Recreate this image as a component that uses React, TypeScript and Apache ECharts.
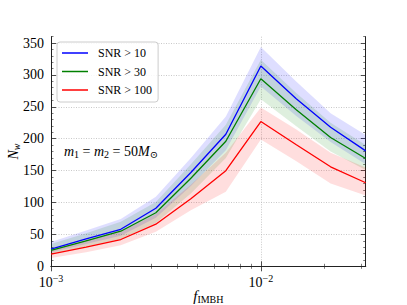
import { useEffect, useRef } from 'react';
import * as echarts from 'echarts';

const FONT = "'Liberation Serif', 'DejaVu Serif', serif";

const fIMBH = [0.001, 0.00147, 0.00215, 0.00316, 0.00464, 0.00681, 0.01, 0.0147, 0.0215, 0.0316];
const snr10Mid = [27, 43, 58, 91, 147, 207, 314, 263, 218, 181];
const snr10Low = [22, 35, 48, 76, 126, 182, 282, 236, 195, 160];
const snr10High = [38, 56, 74, 109, 170, 235, 344, 290, 240, 206];
const snr30Mid = [25, 40, 55, 84, 138, 196, 294, 246, 202, 169];
const snr30Low = [20, 31, 43, 68, 114, 170, 262, 220, 180, 151];
const snr30High = [35, 52, 70, 101, 160, 222, 324, 272, 225, 190];
const snr100Mid = [19, 30, 42, 66, 106, 150, 227, 191, 156, 131];
const snr100Low = [13, 22, 33, 54, 88, 117, 199, 165, 130, 111];
const snr100High = [26, 40, 54, 82, 128, 178, 249, 215, 178, 155];

const seriesNames = ['SNR > 10', 'SNR > 30', 'SNR > 100'];
const seriesColors = ['#0000ff', '#008000', '#ff0000'];
const bandColors = ['rgba(0,0,255,0.13)', 'rgba(0,128,0,0.13)', 'rgba(255,0,0,0.13)'];

const yMajorTicks = [0, 50, 100, 150, 200, 250, 300, 350];
const yMinorTicks = [10, 20, 30, 40, 60, 70, 80, 90, 110, 120, 130, 140, 160, 170, 180, 190,
  210, 220, 230, 240, 260, 270, 280, 290, 310, 320, 330, 340, 360];
const yMax = 360;
const xMajorTicks = [0.001, 0.01];
const xMinorTicks = [0.002, 0.003, 0.004, 0.005, 0.006, 0.007, 0.008, 0.009, 0.02, 0.03];

const lg = (v: number) => Math.log10(v);

export default function App() {
  const ref = useRef<HTMLDivElement>(null);
  useEffect(() => {
    if (!ref.current) return;
    const chart = echarts.init(ref.current, null, { renderer: 'svg' });
    const lx = fIMBH.map(lg);
    const mids = [snr10Mid, snr30Mid, snr100Mid];
    const lows = [snr10Low, snr30Low, snr100Low];
    const highs = [snr10High, snr30High, snr100High];

    const xMin = lg(xMajorTicks[0]);
    const xMax = lg(fIMBH[fIMBH.length - 1]);
    const frame = { show: true, lineStyle: { color: '#222', width: 1 } };
    const xCommon = { type: 'value', min: xMin, max: xMax, interval: 1, gridIndex: 0 };
    const yCommon = { type: 'value', min: 0, max: yMax, interval: 50, gridIndex: 0 };

    const xMajorTickCfg = { show: true, inside: true, length: 5, customValues: xMajorTicks.map(lg), lineStyle: { color: '#222', width: 0.8 } };
    const xMinorTickCfg = { show: true, inside: true, length: 2.5, customValues: xMinorTicks.map(lg), lineStyle: { color: '#222', width: 0.6 } };
    const yMajorTickCfg = { show: true, inside: true, length: 5, customValues: yMajorTicks, lineStyle: { color: '#222', width: 0.8 } };
    const yMinorTickCfg = { show: true, inside: true, length: 2.5, customValues: yMinorTicks, lineStyle: { color: '#222', width: 0.6 } };
    const noLabel = { show: false };
    const noSplit = { show: false };
    const gridLine = { show: true, lineStyle: { color: '#bbbbbb', width: 0.8, type: [1, 1.5] } };

    const bandSeries = [0, 1, 2].map((k) => ({
      type: 'custom',
      xAxisIndex: 0,
      yAxisIndex: 0,
      silent: true,
      z: 1,
      data: lx.map((x, i) => [x, lows[k][i], highs[k][i]]),
      encode: { x: 0, y: [1, 2] },
      renderItem: (params: any, api: any) => {
        if (params.dataIndex !== 0) return null;
        const pts: number[][] = [];
        for (let i = 0; i < lx.length; i++) pts.push(api.coord([lx[i], highs[k][i]]));
        for (let i = lx.length - 1; i >= 0; i--) pts.push(api.coord([lx[i], lows[k][i]]));
        return { type: 'polygon', shape: { points: pts }, style: { fill: bandColors[k], stroke: null } };
      },
    }));

    const lineSeries = [0, 1, 2].map((k) => ({
      type: 'line',
      name: seriesNames[k],
      xAxisIndex: 0,
      yAxisIndex: 0,
      z: 3,
      showSymbol: false,
      color: seriesColors[k],
      lineStyle: { color: seriesColors[k], width: 1.3 },
      data: lx.map((x, i) => [x, mids[k][i]]),
    }));

    chart.setOption({
      animation: false,
      backgroundColor: '#ffffff',
      grid: { left: 51, right: 41.3, top: 36.7, bottom: 38.7, containLabel: false, outerBoundsMode: 'none' },
      legend: {
        data: seriesNames,
        orient: 'vertical',
        left: 57,
        top: 42,
        icon: 'rect',
        itemWidth: 26,
        itemHeight: 1.5,
        itemGap: 4.5,
        padding: [4, 6, 5, 5],
        backgroundColor: 'rgba(255,255,255,0.85)',
        borderColor: '#cccccc',
        borderWidth: 1,
        borderRadius: 3,
        textStyle: { fontFamily: FONT, fontSize: 12, color: '#000', lineHeight: 14, padding: [0, 0, 0, 5] },
      },
      xAxis: [
        {
          ...xCommon,
          position: 'bottom',
          axisLine: frame,
          axisTick: xMajorTickCfg,
          axisLabel: {
            show: true,
            margin: 7,
            customValues: xMajorTicks.map(lg),
            formatter: (v: number) => {
              if (Math.abs(v - Math.round(v)) > 1e-6) return '';
              return `{b|10}{s|\u2212${Math.abs(Math.round(v))}}`;
            },
            rich: {
              b: { fontFamily: FONT, fontSize: 14, color: '#000' },
              s: { fontFamily: FONT, fontSize: 10, color: '#000', padding: [0, 0, 9, 0] },
            },
          },
          splitLine: gridLine,
          name: '{f|f}{s|IMBH}',
          nameLocation: 'middle',
          nameMoveOverlap: false,
          nameGap: 22,
          nameTextStyle: {
            rich: {
              f: { fontFamily: FONT, fontSize: 15, fontStyle: 'italic', color: '#000' },
              s: { fontFamily: FONT, fontSize: 10, color: '#000', padding: [6, 0, 0, 0] },
            },
          },
        },
        { ...xCommon, position: 'bottom', axisLine: { show: false }, axisTick: xMinorTickCfg, axisLabel: noLabel, splitLine: noSplit },
        { ...xCommon, position: 'top', axisLine: frame, axisTick: xMajorTickCfg, axisLabel: noLabel, splitLine: noSplit },
        { ...xCommon, position: 'top', axisLine: { show: false }, axisTick: xMinorTickCfg, axisLabel: noLabel, splitLine: noSplit },
      ],
      yAxis: [
        {
          ...yCommon,
          position: 'left',
          axisLine: frame,
          axisTick: yMajorTickCfg,
          axisLabel: {
            show: true,
            margin: 7,
            customValues: yMajorTicks,
            fontFamily: FONT,
            fontSize: 14,
            color: '#000',
            formatter: (v: number) => (yMajorTicks.includes(v) ? String(v) : ''),
          },
          splitLine: gridLine,
          name: '{n|N}{w|w}',
          nameLocation: 'middle',
          nameRotate: 90,
          nameMoveOverlap: false,
          nameGap: 30,
          nameTextStyle: {
            rich: {
              n: { fontFamily: FONT, fontSize: 14, fontStyle: 'italic', color: '#000' },
              w: { fontFamily: FONT, fontSize: 10, fontStyle: 'italic', color: '#000', padding: [6, 0, 0, 0] },
            },
          },
        },
        { ...yCommon, position: 'left', axisLine: { show: false }, axisTick: yMinorTickCfg, axisLabel: noLabel, splitLine: noSplit },
        { ...yCommon, position: 'right', axisLine: frame, axisTick: yMajorTickCfg, axisLabel: noLabel, splitLine: noSplit },
        { ...yCommon, position: 'right', axisLine: { show: false }, axisTick: yMinorTickCfg, axisLabel: noLabel, splitLine: noSplit },
      ],
      graphic: [
        {
          type: 'text',
          left: 64,
          top: 144,
          z: 10,
          style: {
            text: '{i|m}{u|1}{r| = }{i|m}{u|2}{r| = 50}{i|M}{u|\u2299}',
            rich: {
              i: { fontFamily: FONT, fontSize: 14, fontStyle: 'italic', fill: '#000', color: '#000' },
              r: { fontFamily: FONT, fontSize: 14, fill: '#000', color: '#000' },
              u: { fontFamily: FONT, fontSize: 10, fill: '#000', color: '#000', padding: [7, 0, 0, 0] },
            },
          },
        },
      ],
      series: [...bandSeries, ...lineSeries],
    });
    return () => chart.dispose();
  }, []);
  return <div ref={ref} style={{ position: 'fixed', left: 0, top: 0, width: 407, height: 305 }} />;
}
